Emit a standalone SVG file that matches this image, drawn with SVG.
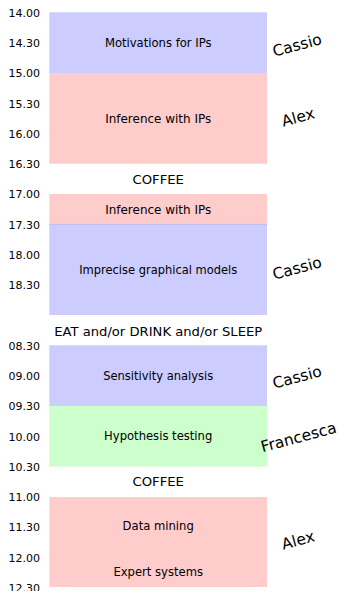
<svg xmlns="http://www.w3.org/2000/svg" width="339" height="591" viewBox="0 0 339 591">
<style>
.t{font-family:"DejaVu Sans",sans-serif;font-size:11px;fill:#000}
.s{font-family:"DejaVu Sans",sans-serif;font-size:11.6px;fill:#000;text-anchor:middle}
.n{font-family:"DejaVu Sans",sans-serif;font-size:15.5px;fill:#000;text-anchor:middle}
.b{fill:#ccccff}
.r{fill:#ffcccc}
.g{fill:#ccffcc}
</style>
<rect width="339" height="591" fill="#fff"/>
<g id="times" class="t">
<text x="8.5" y="16.6">14.00</text>
<text x="8.5" y="46.9">14.30</text>
<text x="8.5" y="77.2">15.00</text>
<text x="8.5" y="107.5">15.30</text>
<text x="8.5" y="137.8">16.00</text>
<text x="8.5" y="168">16.30</text>
<text x="8.5" y="198.3">17.00</text>
<text x="8.5" y="228.6">17.30</text>
<text x="8.5" y="258.9">18.00</text>
<text x="8.5" y="289.2">18.30</text>
<text x="8.5" y="349.6">08.30</text>
<text x="8.5" y="379.9">09.00</text>
<text x="8.5" y="410.2">09.30</text>
<text x="8.5" y="440.5">10.00</text>
<text x="8.5" y="470.8">10.30</text>
<text x="8.5" y="501.1">11.00</text>
<text x="8.5" y="531.4">11.30</text>
<text x="8.5" y="561.7">12.00</text>
<text x="8.5" y="591.5">12.30</text>
</g>
<g id="s1"><rect class="b" x="49.3" y="12.3" width="217.7" height="60.7"/><text class="s" x="158.2" y="47.3">Motivations for IPs</text></g>
<g id="s2"><rect class="r" x="49.3" y="73" width="217.7" height="90.7"/><text class="s" x="158.2" y="122.8" textLength="106" lengthAdjust="spacingAndGlyphs">Inference with IPs</text></g>
<g id="coffee1"><text class="s" x="158.2" y="183.5" textLength="51.5" lengthAdjust="spacingAndGlyphs">COFFEE</text></g>
<g id="s3"><rect class="r" x="49.3" y="194" width="217.7" height="30.3"/><text class="s" x="158.2" y="213.6" textLength="106" lengthAdjust="spacingAndGlyphs">Inference with IPs</text></g>
<g id="s4"><rect class="b" x="49.3" y="224.3" width="217.7" height="90.7"/><line x1="49.3" y1="224.4" x2="267" y2="224.4" stroke="#c4b8ee" stroke-width="1"/><text class="s" x="158.2" y="274.2" textLength="158" lengthAdjust="spacingAndGlyphs">Imprecise graphical models</text></g>
<g id="break"><text class="s" x="158.2" y="336" textLength="208" lengthAdjust="spacingAndGlyphs">EAT and/or DRINK and/or SLEEP</text></g>
<g id="s5"><rect class="b" x="49.3" y="345.3" width="217.7" height="60.7"/><text class="s" x="158.2" y="380" textLength="110" lengthAdjust="spacingAndGlyphs">Sensitivity analysis</text></g>
<g id="s6"><rect class="g" x="49.3" y="406" width="217.7" height="60.5"/><text class="s" x="158.2" y="440.3">Hypothesis testing</text></g>
<g id="coffee2"><text class="s" x="158.2" y="486.2" textLength="51.5" lengthAdjust="spacingAndGlyphs">COFFEE</text></g>
<g id="s7"><rect class="r" x="49.3" y="497" width="217.7" height="60.3"/><text class="s" x="158.2" y="530">Data mining</text></g>
<g id="s8"><rect class="r" x="49.3" y="557" width="217.7" height="30"/><text class="s" x="158.2" y="576">Expert systems</text></g>
<g id="speakers" class="n">
<text transform="translate(297 45) rotate(-15)" y="5.5">Cassio</text>
<text transform="translate(298 117) rotate(-15)" y="5.5">Alex</text>
<text transform="translate(297 268) rotate(-15)" y="5.5">Cassio</text>
<text transform="translate(297 377) rotate(-15)" y="5.5">Cassio</text>
<text transform="translate(298.5 437) rotate(-15)" y="5.5">Francesca</text>
<text transform="translate(298 540) rotate(-15)" y="5.5">Alex</text>
</g>
<g id="connectors"/>
</svg>
